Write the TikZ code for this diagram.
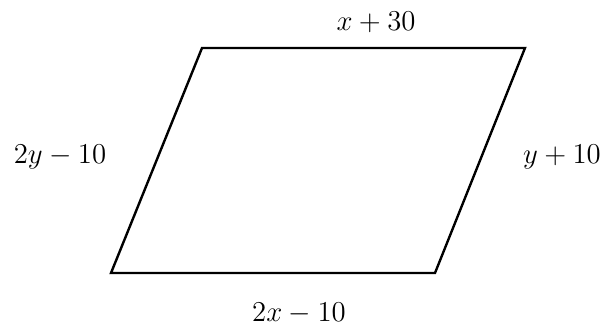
\documentclass[tikz,border=0pt]{standalone}
\usetikzlibrary{positioning}
\tikzset{
    sidelabel/.style={inner sep=0pt,font=\fontsize{15}{18}\selectfont},
    sideline/.style={line width=1.2pt,line join=miter}
}
\begin{document}
\begin{tikzpicture}[x=0.5pt,y=-0.5pt]
            \useasboundingbox (0,0) rectangle (606,329);
            \coordinate (tl) at (202,48);
            \coordinate (tr) at (525,48);
            \coordinate (br) at (435,273);
            \coordinate (bl) at (111,273);
            \draw[sideline] (tl) -- (tr) -- (br) -- (bl) -- cycle;
            \node[sidelabel] (top) at (376,22) {$x+30$};
            \node[sidelabel] (left) at (60,157) {$2y-10$};
            \node[sidelabel] (right) at (562,157) {$y+10$};
            \node[sidelabel] (bottom) at (299,313) {$2x-10$};
        \end{tikzpicture}
\end{document}
